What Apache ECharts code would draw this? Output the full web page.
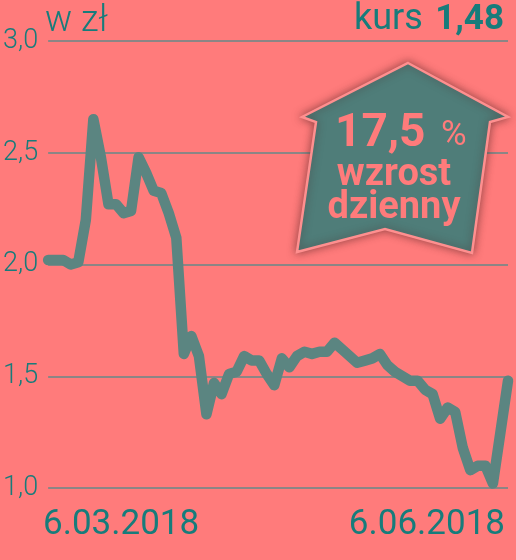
<!DOCTYPE html>
<html>
<head>
<meta charset="utf-8">
<script src="https://cdn.jsdelivr.net/npm/echarts@6/dist/echarts.min.js"></script>
<style>
html,body{margin:0;padding:0;background:#ff7b7b;}
#c{width:516px;height:560px;}
</style>
</head>
<body>
<div id="c"></div>
<script>
// Trading days 6.03.2018 – 6.06.2018
const days = [
  '6.03.2018','7.03.2018','8.03.2018','9.03.2018','12.03.2018','13.03.2018','14.03.2018','15.03.2018','16.03.2018',
  '19.03.2018','20.03.2018','21.03.2018','22.03.2018','23.03.2018','26.03.2018','27.03.2018','28.03.2018','29.03.2018',
  '3.04.2018','4.04.2018','5.04.2018','6.04.2018','9.04.2018','10.04.2018','11.04.2018','12.04.2018','13.04.2018',
  '16.04.2018','17.04.2018','18.04.2018','19.04.2018','20.04.2018','23.04.2018','24.04.2018','25.04.2018','26.04.2018',
  '27.04.2018','30.04.2018','2.05.2018','4.05.2018','7.05.2018','8.05.2018','9.05.2018','10.05.2018','11.05.2018',
  '14.05.2018','15.05.2018','16.05.2018','17.05.2018','18.05.2018','21.05.2018','22.05.2018','23.05.2018','24.05.2018',
  '25.05.2018','28.05.2018','29.05.2018','30.05.2018','1.06.2018','4.06.2018','5.06.2018','6.06.2018'
];
// Share price in PLN
const prices = [
  2.02, 2.02, 2.02, 2.00, 2.01, 2.20, 2.65, 2.48, 2.27, 2.27,
  2.23, 2.24, 2.48, 2.41, 2.33, 2.32, 2.23, 2.12, 1.60, 1.68,
  1.59, 1.33, 1.47, 1.42, 1.51, 1.52, 1.59, 1.57, 1.57, 1.51,
  1.46, 1.58, 1.54, 1.59, 1.61, 1.60, 1.61, 1.61, 1.65, 1.62,
  1.59, 1.56, 1.57, 1.58, 1.60, 1.55, 1.52, 1.50, 1.48, 1.48,
  1.44, 1.42, 1.31, 1.36, 1.34, 1.18, 1.08, 1.10, 1.10, 1.02,
  1.25, 1.48
];
const yTicks = [1.0, 1.5, 2.0, 2.5, 3.0];
const unitLabel = 'w zł';
const rateLabel = 'kurs';
const rateValue = '1,48';
const badgeValue = '17,5';
const badgeLine1 = 'wzrost';
const badgeLine2 = 'dzienny';

const BG = '#ff7b7b';
const TEAL = '#177c7b';
const chart = echarts.init(document.getElementById('c'), null, {renderer: 'canvas'});
const last = days.length - 1;

chart.setOption({
  backgroundColor: BG,
  animation: false,
  grid: {left: 46, right: 8, top: 41, bottom: 72},
  xAxis: {
    type: 'category',
    data: days,
    boundaryGap: false,
    axisLine: {show: false},
    axisTick: {show: false},
    splitLine: {show: false},
    axisLabel: {show: false}
  },
  yAxis: {
    type: 'value',
    min: yTicks[0],
    max: yTicks[yTicks.length - 1],
    interval: 0.5,
    axisLine: {show: false},
    axisTick: {show: false},
    splitLine: {lineStyle: {color: '#8c8585', width: 2}},
    axisLabel: {
      color: TEAL,
      fontFamily: 'Roboto',
      fontWeight: 300,
      fontSize: 27,
      margin: 10,
      formatter: (v) => v.toFixed(1).replace('.', ',')
    }
  },
  series: [{
    type: 'line',
    data: prices,
    symbol: 'none',
    lineStyle: {color: '#5b8581', width: 10.5, cap: 'round', join: 'round'},
    z: 3
  }],
  graphic: [
    {
      type: 'text', left: 43, top: 508, z: 10,
      style: {text: days[0], fill: TEAL, font: '400 35px Roboto'}
    },
    {
      type: 'text', right: 11, top: 508, z: 10,
      style: {text: days[last], fill: TEAL, font: '400 35px Roboto'}
    },
    {
      type: 'text', left: 45, top: 4, z: 10,
      style: {text: unitLabel, fill: TEAL, font: '300 36px Roboto'}
    },
    {
      type: 'text', left: 354, top: 2, z: 10,
      style: {text: rateLabel, fill: TEAL, font: '400 36px Roboto'}
    },
    {
      type: 'text', right: 12, top: 3, z: 10,
      style: {text: rateValue, fill: TEAL, font: '700 35px Roboto'}
    },
    {
      type: 'polygon', z: 20,
      shape: {points: [[408, 63], [508, 117], [490, 122], [472, 253], [385, 229], [297, 252], [316, 122], [302, 117]]},
      style: {fill: '#4f7d79', stroke: '#ff8f8f', lineWidth: 2.5, shadowBlur: 8, shadowColor: 'rgba(70,30,30,0.55)'}
    },
    {
      type: 'text', z: 21, x: 335, y: 134,
      style: {text: badgeValue, fill: BG, font: '700 46px Roboto', verticalAlign: 'middle'}
    },
    {
      type: 'text', z: 21, x: 441, y: 136,
      style: {text: '%', fill: BG, font: '400 35px Roboto', verticalAlign: 'middle'}
    },
    {
      type: 'text', z: 21, x: 394, y: 175,
      style: {text: badgeLine1, fill: BG, font: '700 38px Roboto', align: 'center', verticalAlign: 'middle'}
    },
    {
      type: 'text', z: 21, x: 394, y: 208,
      style: {text: badgeLine2, fill: BG, font: '700 38px Roboto', align: 'center', verticalAlign: 'middle'}
    }
  ]
});
</script>
</body>
</html>
